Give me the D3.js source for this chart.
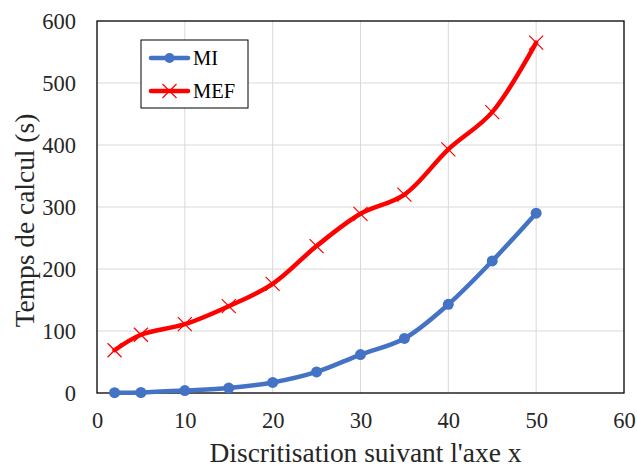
<!DOCTYPE html>
<html><head><meta charset="utf-8">
<script src="https://cdn.jsdelivr.net/npm/d3@7"></script>
<style>body{margin:0;background:#fff}</style>
</head><body><svg id="c" width="637" height="468"></svg>
<script>
const xValues = [2, 5, 10, 15, 20, 25, 30, 35, 40, 45, 50];
const miValues = [0.5, 0.8, 4, 8, 17, 34, 62, 88, 143, 213, 290];
const mefValues = [69, 94, 111, 140, 176, 237, 289, 320, 393, 453, 565];
const xTicks = [0, 10, 20, 30, 40, 50, 60];
const yTicks = [0, 100, 200, 300, 400, 500, 600];
const seriesNames = ["MI", "MEF"];
const xTitle = "Discritisation suivant l'axe x";
const yTitle = "Temps de calcul (s)";

const FONT = "'Liberation Serif'";
const TXT = "#262626";
const svg = d3.select("#c");
const L = 97, R = 624, T = 21, B = 393;
const x = d3.scaleLinear().domain([0, 60]).range([L, R]);
const y = d3.scaleLinear().domain([0, 600]).range([B, T]);

// grid
svg.append("g").selectAll("line").data(xTicks.slice(1, -1)).join("line")
  .attr("x1", d => x(d)).attr("x2", d => x(d)).attr("y1", T).attr("y2", B)
  .attr("stroke", "#d9d9d9").attr("stroke-width", 1);
svg.append("g").selectAll("line").data(yTicks.slice(1, -1)).join("line")
  .attr("x1", L).attr("x2", R).attr("y1", d => y(d)).attr("y2", d => y(d))
  .attr("stroke", "#d9d9d9").attr("stroke-width", 1);

// axes (labels only)
const xAxis = svg.append("g").attr("transform", `translate(0,${B})`)
  .call(d3.axisBottom(x).tickValues(xTicks).tickSize(0).tickPadding(19));
xAxis.select(".domain").remove();
xAxis.attr("font-family", null).attr("font-size", null);
xAxis.selectAll("text").style("font-family", FONT).style("font-size", "22.5px").attr("fill", TXT);
const yAxis = svg.append("g").attr("transform", `translate(${L},0)`)
  .call(d3.axisLeft(y).tickValues(yTicks).tickSize(0).tickPadding(21));
yAxis.select(".domain").remove();
yAxis.attr("font-family", null).attr("font-size", null);
yAxis.selectAll("text").style("font-family", FONT).style("font-size", "22.5px").attr("fill", TXT);

// frame
svg.append("rect").attr("x", L).attr("y", T).attr("width", R - L).attr("height", B - T)
  .attr("fill", "none").attr("stroke", "#000").attr("stroke-width", 1.3);

const line = d3.line().x(d => x(d[0])).y(d => y(d[1])).curve(d3.curveCatmullRom.alpha(0.5));
const mi = xValues.map((v, i) => [v, miValues[i]]);
const mef = xValues.map((v, i) => [v, mefValues[i]]);

svg.append("path").datum(mi).attr("d", line).attr("fill", "none")
  .attr("stroke", "#4472C4").attr("stroke-width", 4.5).attr("stroke-linecap", "round");
svg.append("g").selectAll("circle").data(mi).join("circle")
  .attr("cx", d => x(d[0])).attr("cy", d => y(d[1])).attr("r", 5.5).attr("fill", "#4472C4");

svg.append("path").datum(mef).attr("d", line).attr("fill", "none")
  .attr("stroke", "#FF0000").attr("stroke-width", 4.5).attr("stroke-linecap", "round");
const s = 7;
svg.append("g").selectAll("path").data(mef).join("path")
  .attr("d", d => { const cx = x(d[0]), cy = y(d[1]); return `M${cx-s},${cy-s}L${cx+s},${cy+s}M${cx-s},${cy+s}L${cx+s},${cy-s}`; })
  .attr("stroke", "#FF0000").attr("stroke-width", 1.2).attr("fill", "none");

// legend
const lg = svg.append("g");
lg.append("rect").attr("x", 141).attr("y", 40).attr("width", 107).attr("height", 68)
  .attr("fill", "#fff").attr("stroke", "#000").attr("stroke-width", 1);
const ly = [58, 91];
lg.append("line").attr("x1", 151).attr("x2", 188).attr("y1", ly[0]).attr("y2", ly[0])
  .attr("stroke", "#4472C4").attr("stroke-width", 4.5).attr("stroke-linecap", "round");
lg.append("circle").attr("cx", 169.5).attr("cy", ly[0]).attr("r", 5).attr("fill", "#4472C4");
lg.append("line").attr("x1", 151).attr("x2", 188).attr("y1", ly[1]).attr("y2", ly[1])
  .attr("stroke", "#FF0000").attr("stroke-width", 4.5).attr("stroke-linecap", "round");
lg.append("path").attr("d", `M${169.5-s},${ly[1]-s}L${169.5+s},${ly[1]+s}M${169.5-s},${ly[1]+s}L${169.5+s},${ly[1]-s}`)
  .attr("stroke", "#FF0000").attr("stroke-width", 1.2);
lg.selectAll("text.lt").data(seriesNames).join("text").attr("class", "lt")
  .attr("x", 193).attr("y", (d, i) => ly[i]).attr("dy", "0.35em")
  .style("font-family", FONT).style("font-size", "20.5px").attr("fill", "#000").text(d => d);

// axis titles
const xt = svg.append("text").attr("x", 365.5).attr("y", 462).attr("text-anchor", "middle")
  .style("font-family", FONT).style("font-size", "22px").attr("fill", TXT).text(xTitle);
const fs = 22 * 312 / xt.node().getComputedTextLength();
xt.style("font-size", fs + "px");
svg.append("text").attr("transform", `translate(34,220.5) rotate(-90)`)
  .attr("text-anchor", "middle").style("font-family", FONT).style("font-size", fs + "px").attr("fill", TXT)
  .text(yTitle);
</script></body></html>
